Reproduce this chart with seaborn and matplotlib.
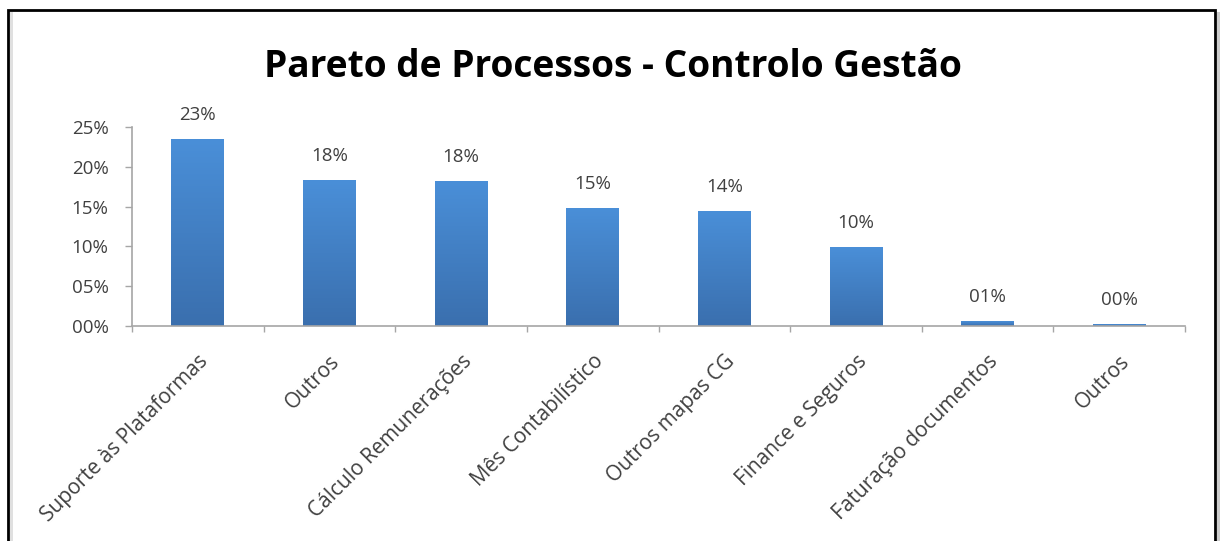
import numpy as np
import pandas as pd
import matplotlib
matplotlib.use("Agg")
import matplotlib.pyplot as plt
import seaborn as sns
from matplotlib.patches import Rectangle
from matplotlib.colors import LinearSegmentedColormap
from matplotlib.ticker import FuncFormatter, FixedLocator

categories = ["Suporte às Plataformas", "Outros", "Cálculo Remunerações", "Mês Contabilístico",
              "Outros mapas CG", "Finance e Seguros", "Faturação documentos", "Outros"]
values = [0.2349, 0.183, 0.182, 0.148, 0.144, 0.099, 0.006, 0.002]
yticks = [0.0, 0.05, 0.10, 0.15, 0.20, 0.25]
title = "Pareto de Processos - Controlo Gestão"

sns.set_theme(style="white")
plt.rcParams['font.family'] = ['Open Sans', 'DejaVu Sans']

fig = plt.figure(figsize=(12.2, 5.41), dpi=100)
ax = fig.add_axes([132/1220, (541-326)/541, (1185-132)/1220, (326-127)/541])

df = pd.DataFrame({"pos": [str(i) for i in range(len(categories))], "val": values})
sns.barplot(data=df, x="pos", y="val", color="#4a8bd3", width=0.4, ax=ax, saturation=1)

cmap = LinearSegmentedColormap.from_list("g", ["#3a6fae", "#4a8fd8"])
grad = np.linspace(0, 1, 256).reshape(-1, 1)
for p in ax.patches:
    x0, y0 = p.get_x(), p.get_y()
    w, h = p.get_width(), p.get_height()
    im = ax.imshow(grad, extent=[x0, x0 + w, y0, y0 + h], origin="lower",
                   cmap=cmap, aspect="auto", zorder=p.get_zorder() + 0.1)
    im.set_clip_path(p)

ax.set_xlim(-0.5, len(categories) - 0.5)
ax.set_ylim(0, 0.25)

for i, v in enumerate(values):
    ax.annotate(f"{v*100:02.0f}%", (i, v), xytext=(0, 11), textcoords="offset points",
                ha="center", va="bottom", fontsize=13.5, color="#404040")

ax.yaxis.set_major_locator(FixedLocator(yticks))
ax.yaxis.set_major_formatter(FuncFormatter(lambda y, _: f"{y*100:02.0f}%"))
ax.set_xticks(range(len(categories)))
ax.set_xticklabels(categories, rotation=45, ha="right", rotation_mode="anchor",
                   fontsize=15, color="#404040")
ax.tick_params(axis="x", length=0, pad=18)
ax.set_xticks(np.arange(-0.5, len(categories)), minor=True)
ax.tick_params(axis="x", which="minor", length=4, color="#a6a6a6", width=1, direction="out", bottom=True)
ax.tick_params(axis="y", length=5, color="#a6a6a6", width=1, direction="out", left=True,
               labelsize=13.5, labelcolor="#404040", pad=12)
ax.set_xlabel("")
ax.set_ylabel("")
for s in ["top", "right"]:
    ax.spines[s].set_visible(False)
for s in ["left", "bottom"]:
    ax.spines[s].set_color("#a6a6a6")
    ax.spines[s].set_linewidth(1.2)

fig.text(613/1220, (541-67)/541, title, ha="center", va="center",
         fontsize=26.7, fontweight="bold", color="black")

# chart frame
fig.patches.append(Rectangle((1217/1220, -0.1), 3/1220, (541-12)/541 + 0.1,
                             transform=fig.transFigure, facecolor="#cccccc", edgecolor="none"))
fig.patches.append(Rectangle((10/1220, -0.1), 3/1220, (541-12)/541 + 0.1,
                             transform=fig.transFigure, facecolor="#e0e0e0", edgecolor="none"))
fig.patches.append(Rectangle((8/1220, -0.1), (1215-8)/1220, (541-10)/541 + 0.1,
                             transform=fig.transFigure, facecolor="none", edgecolor="black",
                             linewidth=2))

fig.savefig("out.png", dpi=100)
